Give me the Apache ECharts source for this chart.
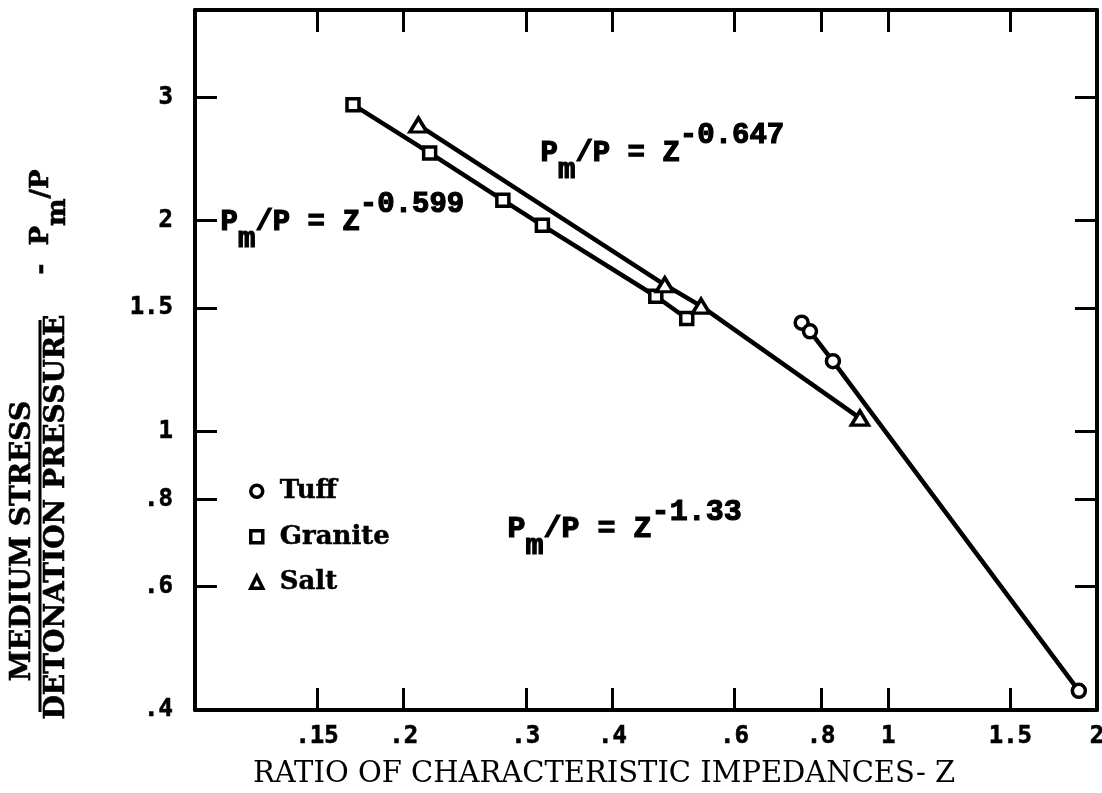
<!DOCTYPE html>
<html><head><meta charset="utf-8">
<script src="https://cdn.jsdelivr.net/npm/echarts@6/dist/echarts.min.js"></script>
<style>html,body{margin:0;padding:0;background:#fff}#c{width:1102px;height:793px}</style>
</head><body><div id="c"></div>
<script>
// ---- data ----
const tuffZ = [0.750, 0.771, 0.832, 1.883];
const tuffP = [1.43, 1.39, 1.26, 0.426];
const graniteZ = [0.169, 0.218, 0.278, 0.317, 0.462, 0.512];
const graniteP = [2.93, 2.50, 2.14, 1.97, 1.56, 1.45];
const saltZ = [0.210, 0.476, 0.537, 0.910];
const saltP = [2.74, 1.62, 1.51, 1.045];
const seriesNames = ['Tuff', 'Granite', 'Salt'];
const seriesSymbols = ['circle', 'rect', 'triangle'];
const xTickValues = [0.15, 0.2, 0.3, 0.4, 0.6, 0.8, 1, 1.5];
const xLabelValues = [0.15, 0.2, 0.3, 0.4, 0.6, 0.8, 1, 1.5, 2];
const xLabelTexts = ['.15', '.2', '.3', '.4', '.6', '.8', '1', '1.5', '2'];
const yTickValues = [0.6, 0.8, 1, 1.5, 2, 3];
const yLabelValues = [0.4, 0.6, 0.8, 1, 1.5, 2, 3];
const yLabelTexts = ['.4', '.6', '.8', '1', '1.5', '2', '3'];
const exponents = ['-0.599', '-0.647', '-1.33'];
const xTitle = 'RATIO OF CHARACTERISTIC IMPEDANCES- Z';
const yTitleTop = 'MEDIUM STRESS';
const yTitleBottom = 'DETONATION PRESSURE';

function zip(a, b) { return a.map((v, i) => [v, b[i]]); }
function lookup(vals, texts) {
  return function (v) {
    for (let i = 0; i < vals.length; i++) if (Math.abs(vals[i] - v) < 1e-6) return texts[i];
    return '';
  };
}
const MONO = 'DejaVu Sans Mono';
const SERIF = 'DejaVu Serif';
const eqFont = 'Liberation Mono';

const chart = echarts.init(document.getElementById('c'), null, {renderer: 'canvas'});

const axisLine = {show: true, onZero: false, lineStyle: {color: '#000', width: 4}};
const tickStyle = {color: '#000', width: 3};

function eqText(exp) {
  return '{b|P}{sub|m}{b|/P = Z}{sup|' + exp + '}';
}
function eqRichFor(fs) {
  const base = {fontFamily: eqFont, fontWeight: 'bold', fontSize: fs, fill: '#000', stroke: '#000', lineWidth: 1.2};
  return {
    b: Object.assign({}, base, {lineHeight: 64}),
    sub: Object.assign({}, base, {lineHeight: fs, verticalAlign: 'bottom'}),
    sup: Object.assign({}, base, {lineHeight: fs, verticalAlign: 'top'})
  };
}

const seriesData = [zip(tuffZ, tuffP), zip(graniteZ, graniteP), zip(saltZ, saltP)];
const symbolSizes = [13, 12, [17, 14]];

const labelStyle = {fontFamily: MONO, fontWeight: 'bold', fontSize: 24, color: '#000', textBorderColor: '#000', textBorderWidth: 0.6};

const option = {
  animation: false,
  backgroundColor: '#fff',
  grid: {left: 195, right: 5, top: 10, bottom: 83, containLabel: false, outerBoundsMode: 'none'},
  xAxis: [{
    type: 'log', logBase: 10, min: 0.1, max: 2, position: 'bottom',
    axisLine: axisLine,
    axisTick: {show: true, inside: true, length: 22, lineStyle: tickStyle, customValues: xTickValues},
    axisLabel: Object.assign({customValues: xLabelValues, formatter: lookup(xLabelValues, xLabelTexts), margin: 15}, labelStyle),
    splitLine: {show: false}, minorTick: {show: false},
    name: xTitle, nameLocation: 'middle', nameGap: 50,
    nameTextStyle: {fontFamily: SERIF, fontSize: 29, color: '#000', padding: [0, 84, 0, 0]}
  }, {
    type: 'log', logBase: 10, min: 0.1, max: 2, position: 'top',
    axisLine: axisLine,
    axisTick: {show: true, inside: true, length: 22, lineStyle: tickStyle, customValues: xTickValues},
    axisLabel: {show: false}, splitLine: {show: false}
  }],
  yAxis: [{
    type: 'log', logBase: 10, min: 0.4, max: 4, position: 'left',
    axisLine: axisLine,
    axisTick: {show: true, inside: true, length: 22, lineStyle: tickStyle, customValues: yTickValues},
    axisLabel: Object.assign({customValues: yLabelValues, formatter: lookup(yLabelValues, yLabelTexts), margin: 22}, labelStyle),
    splitLine: {show: false}
  }, {
    type: 'log', logBase: 10, min: 0.4, max: 4, position: 'right',
    axisLine: axisLine,
    axisTick: {show: true, inside: true, length: 22, lineStyle: tickStyle, customValues: yTickValues},
    axisLabel: {show: false}, splitLine: {show: false}
  }],
  legend: {
    orient: 'vertical', left: 249, top: 478, padding: 0, itemWidth: 12, itemHeight: 12, itemGap: 19,
    data: seriesNames.map((n, i) => ({name: n, icon: seriesSymbols[i]})),
    itemStyle: {color: '#fff', borderColor: '#000', borderWidth: 3.5},
    textStyle: {fontFamily: SERIF, fontWeight: 'bold', fontSize: 26, color: '#000', padding: [0, 0, 0, 12],
      textBorderColor: '#000', textBorderWidth: 0.5},
    selectedMode: false
  },
  series: seriesNames.map((n, i) => ({
    name: n, type: 'line', xAxisIndex: 0, yAxisIndex: 0,
    data: seriesData[i],
    symbol: seriesSymbols[i], symbolSize: symbolSizes[i],
    showAllSymbol: true,
    lineStyle: {color: '#000', width: 4.5},
    itemStyle: {color: '#fff', borderColor: '#000', borderWidth: 3.5},
    emphasis: {disabled: true},
    z: 3
  })),
  graphic: [
    {type: 'text', left: 220, top: 222 - 32, style: {text: eqText(exponents[0]), rich: eqRichFor(29)}},
    {type: 'text', left: 540, top: 153 - 32, style: {text: eqText(exponents[1]), rich: eqRichFor(29)}},
    {type: 'text', left: 507, top: 529 - 32, style: {text: eqText(exponents[2]), rich: eqRichFor(30)}},
    {type: 'text', x: 23, y: 541, rotation: Math.PI / 2,
      style: {text: yTitleTop, fontFamily: SERIF, fontWeight: 'bold', fontSize: 28, fill: '#000', align: 'center', verticalAlign: 'middle',
        stroke: '#000', lineWidth: 0.6}},
    {type: 'line', shape: {x1: 40, y1: 320, x2: 40, y2: 712}, style: {stroke: '#000', lineWidth: 3}},
    {type: 'text', x: 57, y: 517, rotation: Math.PI / 2,
      style: {text: yTitleBottom, fontFamily: SERIF, fontWeight: 'bold', fontSize: 28, fill: '#000', align: 'center', verticalAlign: 'middle',
        stroke: '#000', lineWidth: 0.6}},
    {type: 'text', x: 41, y: 222, rotation: Math.PI / 2,
      style: {text: '{b|-  P}{sub|m}{b|/P}', align: 'center', verticalAlign: 'middle',
        rich: {
          b: {fontFamily: SERIF, fontWeight: 'bold', fontSize: 26, lineHeight: 60, fill: '#000', stroke: '#000', lineWidth: 0.6},
          sub: {fontFamily: SERIF, fontWeight: 'bold', fontSize: 26, lineHeight: 28, verticalAlign: 'bottom', fill: '#000', stroke: '#000', lineWidth: 0.6}
        }}}
  ]
};
chart.setOption(option);
</script>
</body></html>
